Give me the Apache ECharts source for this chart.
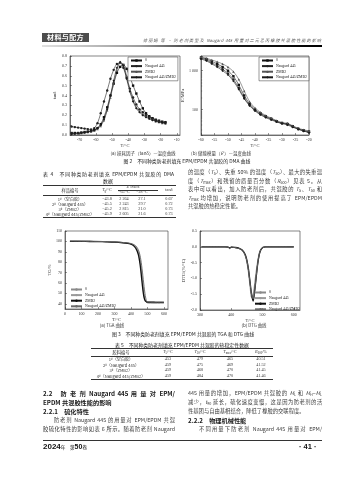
<!DOCTYPE html>
<html><head><meta charset="utf-8">
<script src="https://cdn.jsdelivr.net/npm/echarts@6/dist/echarts.min.js"></script>
<style>
html,body{margin:0;padding:0;background:#fff;}
#page{position:relative;width:356px;height:480px;overflow:hidden;background:#fff;font-family:"Noto Sans CJK SC","Liberation Serif",sans-serif;color:#3a3a3a;}
#chart{position:absolute;left:0;top:0;width:356px;height:480px;}
.t{position:absolute;line-height:1;white-space:nowrap;z-index:2;}
.j{text-align:justify;text-align-last:justify;white-space:normal;overflow:visible;}
.rule{position:absolute;background:#333;height:0.6px;z-index:2;}
sub{font-size:70%;vertical-align:-0.25em;line-height:0;}
sup{font-size:70%;vertical-align:0.35em;line-height:0;}
</style></head>
<body><div id="page"><div id="chart"></div></div>
<script>
// ---------- DATA ----------
const seriesNames = ['0', 'Naugard 445', 'ZMB2', 'Naugard 445/ZMB2'];

// (a) tan delta vs temperature
const tempA = [-75,-73,-71,-69,-67,-65,-63,-61,-59,-57,-55,-53,-51,-49,-47,-45,-43,-41,-39,-37,-35,-33,-31,-29,-27,-25,-23,-21,-19,-17];
const tanA0 = [0.020,0.020,0.020,0.025,0.030,0.035,0.040,0.050,0.070,0.110,0.180,0.280,0.400,0.520,0.630,0.690,0.710,0.670,0.590,0.500,0.420,0.340,0.270,0.220,0.190,0.170,0.155,0.145,0.135,0.130];
const tanA1 = [0.085,0.080,0.075,0.070,0.065,0.060,0.055,0.070,0.120,0.220,0.340,0.450,0.570,0.660,0.720,0.730,0.680,0.580,0.470,0.380,0.310,0.260,0.230,0.200,0.180,0.165,0.150,0.140,0.130,0.125];
const tanA2 = [0.015,0.015,0.020,0.020,0.025,0.030,0.035,0.045,0.060,0.090,0.150,0.250,0.380,0.520,0.650,0.730,0.710,0.600,0.460,0.350,0.280,0.240,0.210,0.190,0.170,0.155,0.140,0.130,0.120,0.115];
const tanA3 = [0.010,0.012,0.015,0.020,0.025,0.030,0.040,0.050,0.070,0.100,0.160,0.260,0.400,0.550,0.680,0.740,0.700,0.570,0.440,0.340,0.270,0.230,0.200,0.180,0.165,0.150,0.140,0.130,0.125,0.120];

// (b) storage modulus E' (MPa) vs temperature
const tempB = [-60,-58,-56,-54,-52,-50,-48,-46,-44,-42,-40,-38,-36,-34,-32,-30,-28,-26,-24,-22,-20];
const modB0 = [2200,2000,1750,1500,1250,1000,720,430,230,140,100,80,67,58,50,45,42,37,32,29,27];
const modB1 = [2100,1900,1600,1350,1100,850,600,360,200,130,95,76,64,56,49,44,43,36,31,28,26];
const modB2 = [2300,2100,1900,1700,1500,1250,950,600,300,160,110,85,70,60,52,46,44,38,33,30,28];
const modB3 = [2000,1800,1500,1250,1000,780,540,330,190,125,92,73,62,54,48,43,40,35,31,28,25];

// (c) TGA weight % vs temperature
const tempC = [30,50,100,150,200,250,300,350,380,400,410,420,430,440,445,450,455,460,465,470,475,480,485,490,495,500,510,520,540,560,580,600];
const tgC0 = [100.3,100.3,100.2,100.1,100.0,99.8,99.5,98.9,98.4,97.8,97.2,96.3,94.8,92.2,90.3,87.6,83.8,78.5,72.0,64.5,57.0,50.0,45.0,42.3,41.2,40.8,40.6,40.6,40.5,40.5,40.5,40.4];
const tgC1 = [100.2,100.2,100.1,100.0,99.9,99.7,99.4,98.8,98.3,97.6,96.9,95.8,94.0,91.0,88.8,85.5,81.0,75.0,68.0,60.5,53.0,47.0,43.8,42.4,41.9,41.7,41.6,41.6,41.5,41.5,41.5,41.5];
const tgC2 = [100.1,100.1,100.0,99.9,99.8,99.6,99.3,98.7,98.1,97.3,96.5,95.2,93.2,89.8,87.2,83.5,78.5,72.0,64.5,57.0,50.5,46.0,43.5,42.3,41.8,41.6,41.5,41.5,41.5,41.4,41.4,41.4];
const tgC3 = [100.3,100.3,100.2,100.1,100.0,99.8,99.6,99.0,98.6,98.0,97.5,96.8,95.6,93.5,92.0,89.8,86.8,82.5,77.0,70.5,63.5,56.5,50.2,45.5,43.0,41.9,41.6,41.5,41.5,41.5,41.5,41.4];

// (d) DTG (%/°C) vs temperature
const tempD = [305,320,340,360,380,390,395,400,410,420,430,435,440,445,450,455,460,465,470,475,480,485,490,495,500,505,510,520,540,560,580,600];
const dtgD0 = [0,0,0,0,0,-0.01,-0.06,-0.01,-0.02,-0.04,-0.08,-0.12,-0.19,-0.30,-0.50,-0.82,-1.25,-1.60,-1.50,-1.15,-0.75,-0.42,-0.18,-0.07,-0.03,-0.01,0,0,0,0,0,0];
const dtgD1 = [0,0,0,0,0,-0.01,-0.05,-0.01,-0.02,-0.04,-0.07,-0.11,-0.17,-0.27,-0.45,-0.75,-1.15,-1.55,-1.68,-1.35,-0.90,-0.50,-0.22,-0.08,-0.03,-0.01,0,0,0,0,0,0];
const dtgD2 = [0,0,0,0,0,-0.01,-0.04,-0.01,-0.02,-0.03,-0.07,-0.10,-0.16,-0.25,-0.42,-0.70,-1.10,-1.50,-1.72,-1.40,-0.95,-0.52,-0.23,-0.09,-0.03,-0.01,0,0,0,0,0,0];
const dtgD3 = [0,0,0,0,0,-0.01,-0.05,-0.01,-0.02,-0.04,-0.07,-0.11,-0.17,-0.27,-0.44,-0.72,-1.12,-1.52,-1.65,-1.38,-0.92,-0.50,-0.22,-0.08,-0.03,-0.01,0,0,0,0,0,0];

// Table 4 (DMA data)
const tab4Rows = ['1<sup>#</sup>（空白胶）','2<sup>#</sup>（Naugard 445）','3<sup>#</sup>（ZMB2）','4<sup>#</sup>（Naugard 445/ZMB2）'];
const tab4Tg = ['−43.8','−45.5','−45.2','−45.9'];
const tab4E65 = ['2 264','2 243','2 815','2 605'];
const tab4E28 = ['27.1','29.7','21.0','21.6'];
const tab4Tan = ['0.67','0.72','0.73','0.73'];
// Table 5 (thermal stability)
const tab5T5 = ['453','459','459','459'];
const tab5T50 = ['479','475','468','484'];
const tab5Tmax = ['465','469','470','470'];
const tab5R600 = ['40.51','41.52','41.45','41.46'];

// ---------- CHART ----------
const FONT = 'Liberation Serif';
const AX = '#333';
function pairs(xs, ys){ return xs.map((x,i)=>[x, ys[i]]); }
function xAx(gi, o){
  return Object.assign({
    type:'value', gridIndex:gi, name:'T/°C', nameLocation:'middle', nameGap:8,
    nameTextStyle:{fontSize:4.5, fontFamily:FONT, color:AX, fontStyle:'normal'},
    axisLine:{show:true, onZero:false, lineStyle:{color:AX, width:0.6}},
    axisTick:{show:true, inside:true, length:2, lineStyle:{color:AX, width:0.5}},
    axisLabel:{fontSize:4, fontFamily:FONT, color:AX, margin:2.5},
    splitLine:{show:false}
  }, o);
}
function yAx(gi, name, o){
  return Object.assign({
    type:'value', gridIndex:gi, name:name, nameLocation:'middle', nameGap:13, nameRotate:90,
    nameTextStyle:{fontSize:4.5, fontFamily:FONT, color:AX},
    axisLine:{show:true, onZero:false, lineStyle:{color:AX, width:0.6}},
    axisTick:{show:true, inside:true, length:2, lineStyle:{color:AX, width:0.5}},
    axisLabel:{fontSize:4, fontFamily:FONT, color:AX, margin:3},
    splitLine:{show:false}
  }, o);
}
const symA = ['rect','circle','triangle','diamond'];
const dmaColors = ['#111','#222','#555','#1a1a1a'];
function dmaSeries(prefix, gi, xs, list){
  return list.map((ys,i)=>({
    name: prefix+i, type:'line', xAxisIndex:gi, yAxisIndex:gi,
    data: pairs(xs, ys), symbol: symA[i], symbolSize: 2.4, showSymbol:true,
    lineStyle:{color:dmaColors[i], width:0.6}, itemStyle:{color:dmaColors[i]},
    smooth:0.3, silent:true, animation:false
  }));
}
const tgColors = ['#8a8a8a','#9a9a9a','#111','#6a6a6a'];
const tgWidths = [0.9,0.9,1.3,0.9];
function tgSeries(prefix, gi, xs, list){
  return list.map((ys,i)=>({
    name: prefix+i, type:'line', xAxisIndex:gi, yAxisIndex:gi,
    data: pairs(xs, ys), showSymbol:false, symbol:'none',
    lineStyle:{color:tgColors[i], width:tgWidths[i]}, itemStyle:{color:tgColors[i]},
    smooth:0.3, silent:true, animation:false
  }));
}
function legend(prefix, left, top, border){
  return {
    left:left, top:top, orient:'vertical', data:[0,1,2,3].map(i=>prefix+i),
    formatter: n => seriesNames[+n.slice(1)],
    itemWidth:11, itemHeight:3, itemGap:1.6, padding:[1.5,2,1.5,2],
    textStyle:{fontSize:3.8, fontFamily:FONT, color:'#222', padding:[0,0,0,-2]},
    borderColor: border ? '#333' : 'transparent', borderWidth: border ? 0.5 : 0,
    selectedMode:false, backgroundColor: border ? '#fff' : 'transparent'
  };
}
const grids = [
  {left:70, top:56, width:110, height:79},
  {left:201, top:56, width:108, height:79},
  {left:65, top:231, width:103, height:78},
  {left:200, top:231, width:100, height:79}
].map(g=>Object.assign(g,{show:true, borderColor:AX, borderWidth:0.6, backgroundColor:'transparent', containLabel:false, outerBoundsMode:'none'}));

const option = {
  animation:false,
  grid: grids,
  xAxis: [
    xAx(0,{min:-76, max:-8, minInterval:10, maxInterval:10, axisLabel:{fontSize:4, fontFamily:FONT, color:AX, margin:2.5, showMinLabel:false, showMaxLabel:false}}),
    xAx(1,{min:-60, max:-20, interval:5}),
    xAx(2,{min:0, max:625, minInterval:100, maxInterval:100, axisLabel:{fontSize:4, fontFamily:FONT, color:AX, margin:2.5, showMaxLabel:false}}),
    xAx(3,{min:300, max:620, minInterval:100, maxInterval:100, axisLabel:{fontSize:4, fontFamily:FONT, color:AX, margin:2.5, showMaxLabel:false}})
  ],
  yAxis: [
    yAx(0,'tanδ',{min:0, max:0.8, interval:0.1, axisLabel:{fontSize:4, fontFamily:FONT, color:AX, margin:3, formatter:v=>v.toFixed(1)}}),
    yAx(1,"E′/MPa",{type:'log', logBase:10, min:22, max:2400, nameGap:14,
      axisLabel:{fontSize:4, fontFamily:FONT, color:AX, margin:3, showMinLabel:false, showMaxLabel:false, formatter:v=> v===1000?'1 000':String(Math.round(v))},
      minorTick:{show:true, splitNumber:9, length:1.2, lineStyle:{color:AX, width:0.4}}}),
    yAx(2,'TG/%',{min:35, max:110, minInterval:10, maxInterval:10, nameGap:12, axisLabel:{fontSize:4, fontFamily:FONT, color:AX, margin:3, showMinLabel:false}}),
    yAx(3,'DTG/(%/°C)',{min:-2, max:0.5, interval:0.5, nameGap:14, axisLabel:{fontSize:4, fontFamily:FONT, color:AX, margin:3, formatter:v=>v.toFixed(1)}})
  ],
  legend: [
    legend('a', 128, 57, true),
    legend('b', 259, 57, true),
    legend('c', 68, 286, false),
    legend('d', 252, 289, false)
  ],
  series: [].concat(
    dmaSeries('a',0,tempA,[tanA0,tanA1,tanA2,tanA3]),
    dmaSeries('b',1,tempB,[modB0,modB1,modB2,modB3]),
    tgSeries('c',2,tempC,[tgC0,tgC1,tgC2,tgC3]),
    tgSeries('d',3,tempD,[dtgD0,dtgD1,dtgD2,dtgD3])
  )
};
const chart = echarts.init(document.getElementById('chart'), null, {renderer:'canvas', width:356, height:480});
chart.setOption(option);

// ---------- PAGE TEXT ----------
const page = document.getElementById('page');
function T(x,y,html,o){
  o = o||{};
  const d=document.createElement('div'); d.className='t';
  d.style.left=x+'px'; d.style.top=y+'px'; d.style.fontSize=(o.fs||5.2)+'px';
  if(o.w){ d.style.width=o.w+'px'; d.classList.add('j'); }
  if(o.left){ d.style.textAlignLast='left'; d.style.textAlign='left'; }
  if(o.b) d.style.fontWeight='bold';
  if(o.c) d.style.color=o.c;
  if(o.i) d.style.fontStyle='italic';
  if(o.ff) d.style.fontFamily=o.ff;
  if(o.ctr) d.style.transform='translate(-50%,-50%)';
  if(o.ls) d.style.letterSpacing=o.ls+'px';
  d.innerHTML=html; page.appendChild(d); return d;
}
function R(x,y,w,h,c){ const d=document.createElement('div'); d.className='rule'; d.style.left=x+'px'; d.style.top=y+'px'; d.style.width=w+'px'; if(h) d.style.height=h+'px'; if(c) d.style.background=c; page.appendChild(d); return d; }

// header
R(42,33,47,8.5,'#4d4d4d');
T(65.5,37.3,'材料与配方',{fs:7,b:true,c:'#fff',ctr:true,ls:0.4});
T(143,37.5,'徐丽娟 等 · 防老剂类型及 Naugard 445 用量对二元乙丙橡胶共混胶性能的影响',{fs:4.2,i:true,w:178,c:'#555'});
R(42,45.2,280,1.6,'linear-gradient(to right,#e0e0e0 0%,#9a9a9a 35%,#222 60%,#000 100%)');

// figure 2 captions
T(143,153,'(a) 损耗因子（tanδ）—温度曲线',{fs:4.5,ctr:true});
T(221,153,'(b) 储能模量（<i>E</i>′）—温度曲线',{fs:4.5,ctr:true});
T(187,161,'图 2　不同种类防老剂填充 EPM/EPDM 共混胶的 DMA 曲线',{fs:4.9,ctr:true,c:'#222'});

// table 4
T(43,171.5,'表 4　不同种类防老剂填充 EPM/EPDM 共混胶的 DMA',{fs:4.9,w:131,c:'#222'});
T(108,180.5,'数据',{fs:4.9,ctr:true,c:'#222'});
R(43,184.8,133); R(118,189.6,40,0.5); R(43,195,133,0.5); R(43,216.8,133);
const c4 = [70,107,124,142,169];
T(c4[0],190,'样品编号',{fs:4.3,ctr:true});
T(c4[1],190,'<i>T</i><sub>g</sub>/°C',{fs:4.3,ctr:true,ff:FONT});
T(133,187.2,'<i>E</i>′/MPa',{fs:4.3,ctr:true,ff:FONT});
T(c4[2],192.3,'−65 °C',{fs:4,ctr:true,ff:FONT});
T(c4[3],192.3,'−28 °C',{fs:4,ctr:true,ff:FONT});
T(c4[4],190,'tanδ',{fs:4.3,ctr:true,ff:FONT});
const r4 = [199,204,209,214];
for(let i=0;i<4;i++){
  T(c4[0],r4[i],tab4Rows[i],{fs:4.1,ctr:true});
  T(c4[1],r4[i],tab4Tg[i],{fs:4.2,ctr:true,ff:FONT});
  T(c4[2],r4[i],tab4E65[i],{fs:4.2,ctr:true,ff:FONT});
  T(c4[3],r4[i],tab4E28[i],{fs:4.2,ctr:true,ff:FONT});
  T(c4[4],r4[i],tab4Tan[i],{fs:4.2,ctr:true,ff:FONT});
}

// right column paragraph
const rc = 188, rw = 134, pf = 5.3;
T(rc,170.4,'的温度（<i>T</i><sub>5</sub>）、失重 50% 的温度（<i>T</i><sub>50</sub>）、最大的失重温',{fs:pf,w:rw});
T(rc,178.9,'度（<i>T</i><sub>max</sub>）和残留的质量百分数（<i>R</i><sub>600</sub>）见表 5。从',{fs:pf,w:rw});
T(rc,187.4,'表中可以看出，加入防老剂后，共混胶的 <i>T</i><sub>5</sub>、<i>T</i><sub>50</sub> 和',{fs:pf,w:rw});
T(rc,195.9,'<i>T</i><sub>max</sub> 均增加，说明防老剂的使用提高了 EPM/EPDM',{fs:pf,w:rw});
T(rc,204.4,'共混胶的热稳定性能。',{fs:pf});

// figure 3 captions
T(112,325,'(a) TGA 曲线',{fs:4.4,ctr:true});
T(254,325,'(b) DTG 曲线',{fs:4.4,ctr:true});
T(183,334,'图 3　不同种类防老剂填充 EPM/EPDM 共混胶的 TGA 和 DTG 曲线',{fs:4.9,ctr:true,c:'#222'});

// table 5
T(182,345,'表 5　不同种类防老剂填充 EPM/EPDM 共混胶的热稳定性数据',{fs:4.9,ctr:true,c:'#222'});
R(91,348.3,182); R(91,355.6,182,0.5); R(91,379,182);
const c5 = [121,168,200,230,261];
T(c5[0],352.3,'胶料编号',{fs:4.3,ctr:true});
T(c5[1],352.3,'<i>T</i><sub>5</sub>/°C',{fs:4.3,ctr:true,ff:FONT});
T(c5[2],352.3,'<i>T</i><sub>50</sub>/°C',{fs:4.3,ctr:true,ff:FONT});
T(c5[3],352.3,'<i>T</i><sub>max</sub>/°C',{fs:4.3,ctr:true,ff:FONT});
T(c5[4],352.3,'<i>R</i><sub>600</sub>/%',{fs:4.3,ctr:true,ff:FONT});
const r5 = [359,364.7,370.3,376];
for(let i=0;i<4;i++){
  T(c5[0],r5[i],tab4Rows[i],{fs:4.1,ctr:true});
  T(c5[1],r5[i],tab5T5[i],{fs:4.2,ctr:true,ff:FONT});
  T(c5[2],r5[i],tab5T50[i],{fs:4.2,ctr:true,ff:FONT});
  T(c5[3],r5[i],tab5Tmax[i],{fs:4.2,ctr:true,ff:FONT});
  T(c5[4],r5[i],tab5R600[i],{fs:4.2,ctr:true,ff:FONT});
}

// section 2.2 left column
const lc = 43, lw = 132;
T(lc,390.8,'2.2　防 老 剂 Naugard 445 用 量 对 EPM/',{fs:6.2,b:true,w:lw,c:'#1a1a1a'});
T(lc,399.6,'EPDM 共混胶性能的影响',{fs:6.2,b:true,c:'#1a1a1a'});
T(lc,408.6,'2.2.1　硫化特性',{fs:6.2,b:true,c:'#1a1a1a'});
T(54,418.2,'防老剂 Naugard 445 的用量对 EPM/EPDM 共混',{fs:pf,w:121});
T(lc,427.2,'胶硫化特性的影响如表 6 所示。随着防老剂 Naugard',{fs:pf,w:lw});
// right column
T(rc,391.3,'445 用量的增加，EPM/EPDM 共混胶的 <i>M</i><sub>L</sub> 和 <i>M</i><sub>H</sub>−<i>M</i><sub>L</sub>',{fs:pf,w:rw});
T(rc,400.1,'减少，<i>t</i><sub>90</sub> 延长，硫化速度变慢，这是因为防老剂的活',{fs:pf,w:rw});
T(rc,408.9,'性基团与自由基相结合，降低了橡胶的交联程度。',{fs:pf});
T(rc,417.8,'2.2.2　物理机械性能',{fs:6.2,b:true,c:'#1a1a1a'});
T(199,427.2,'不同用量下防老剂 Naugard 445 用量对 EPM/',{fs:pf,w:123});

// footer
R(43,440,279,0.8,'#333');
T(43,443,'<span style="font-size:8px;font-weight:bold;font-family:Liberation Sans">2024</span><span style="font-size:4.6px">年　第</span><span style="font-size:7px;font-weight:bold;font-family:Liberation Sans">50</span><span style="font-size:4.6px">卷</span>',{fs:5,c:'#111'});
T(299,443,'· 41 ·',{fs:7.5,b:true,c:'#111',ff:'Liberation Sans'});
</script>
</body></html>
